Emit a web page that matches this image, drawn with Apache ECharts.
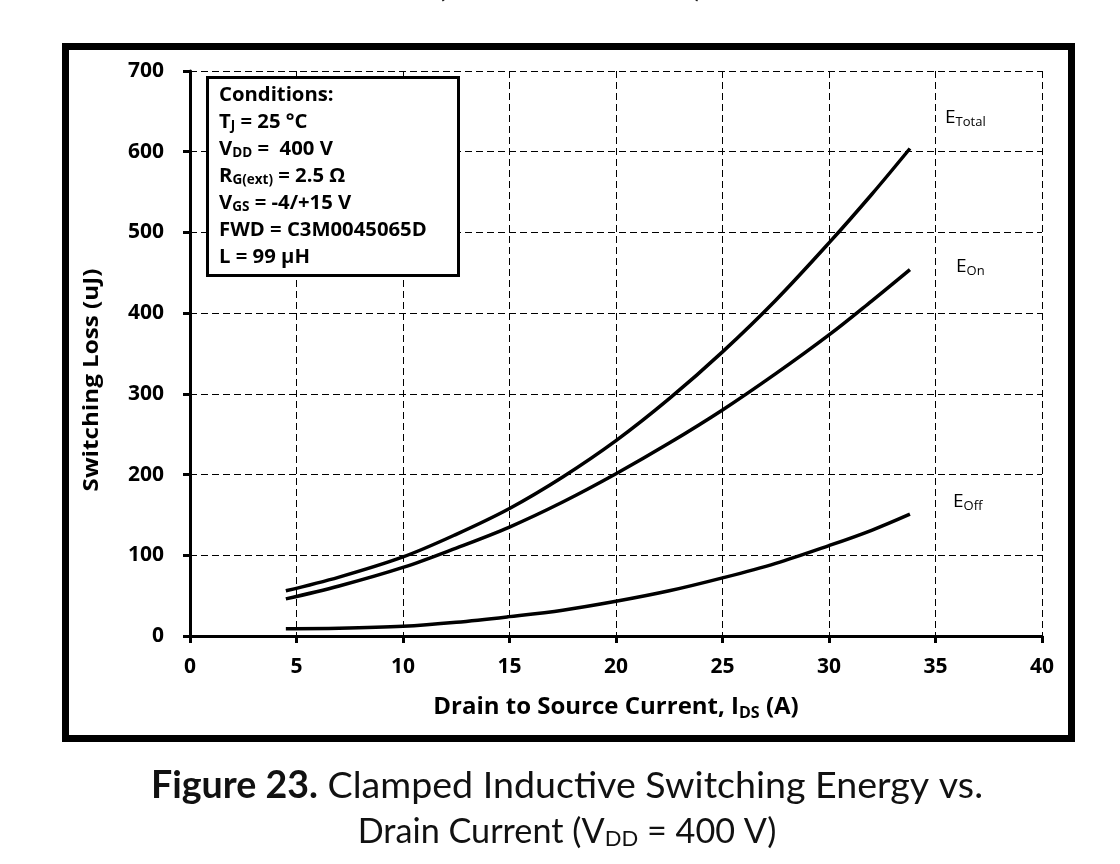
<!DOCTYPE html>
<html>
<head>
<meta charset="utf-8">
<script src="https://cdn.jsdelivr.net/npm/echarts@6/dist/echarts.min.js"></script>
<style>
html,body{margin:0;padding:0;background:#fff;}
#chart{width:1120px;height:864px;}
</style>
</head>
<body>
<div id="chart"></div>
<script>
// ---- data ----
var currentA = [4.5, 7, 10, 12.5, 15, 17.5, 20, 22.5, 25, 27.5, 30, 32, 33.8];
var eTotal   = [56, 73, 98, 126, 158, 197, 242, 294, 352, 416, 487, 547, 604];
var eOn      = [46, 62, 85, 109, 135, 166, 201, 239, 280, 325, 373, 415, 454];
var eOff     = [9, 9.5, 12, 17, 24, 32, 43, 56, 72, 90, 112, 131, 151];
var xTicks = [0, 5, 10, 15, 20, 25, 30, 35, 40];
var yTicks = [0, 100, 200, 300, 400, 500, 600, 700];

function pairs(xs, ys) { return xs.map(function (x, i) { return [x, ys[i]]; }); }

var FONT = '"Open Sans", "Noto Sans", sans-serif';
var CAP = 'Lato, "Noto Sans", sans-serif';

var chart = echarts.init(document.getElementById('chart'), null, {renderer: 'canvas'});

var lineStyle = {color: '#000', width: 3.5};
function mkSeries(name, ys) {
  return {
    name: name, type: 'line', smooth: 0.35, showSymbol: false, symbol: 'none',
    data: pairs(currentA, ys), lineStyle: lineStyle, itemStyle: {color: '#000'}, z: 5
  };
}
var subRich = function (size, sub, weight, lh, pad) {
  return {
    b: {fontFamily: FONT, fontWeight: weight, fontSize: size, lineHeight: lh || Math.round(size * 1.35), color: '#000', fill: '#000'},
    s: {fontFamily: FONT, fontWeight: weight, fontSize: sub, lineHeight: sub, verticalAlign: 'bottom', padding: [0, 0, pad == null ? 2 : pad, 0], color: '#000', fill: '#000'}
  };
};

var option = {
  backgroundColor: '#fff',
  animation: false,
  grid: {left: 190, right: 78, top: 71, bottom: 228, containLabel: false},
  xAxis: {
    type: 'value', min: xTicks[0], max: xTicks[xTicks.length - 1], interval: 5,
    axisLine: {show: true, onZero: false, lineStyle: {color: '#000', width: 3}},
    axisTick: {show: true, length: 7, lineStyle: {color: '#000', width: 3}},
    axisLabel: {color: '#000', fontFamily: FONT, fontWeight: 'bold', fontSize: 21, margin: 21},
    splitLine: {show: true, lineStyle: {color: '#000', width: 1, type: [7, 4]}},
    name: '{b|Drain to Source Current, I}{s|DS}{b| (A)}',
    nameLocation: 'middle', nameGap: 55,
    nameTextStyle: {color: '#000', fontFamily: FONT, fontWeight: 'bold', fontSize: 24, rich: subRich(24, 16, 'bold')}
  },
  yAxis: {
    type: 'value', min: yTicks[0], max: yTicks[yTicks.length - 1], interval: 100,
    axisLine: {show: true, lineStyle: {color: '#000', width: 3}},
    axisTick: {show: true, length: 7, lineStyle: {color: '#000', width: 3}},
    axisLabel: {color: '#000', fontFamily: FONT, fontWeight: 'bold', fontSize: 21, margin: 26},
    splitLine: {show: true, lineStyle: {color: '#000', width: 1, type: [7, 4]}}
  },
  series: [mkSeries('E_Total', eTotal), mkSeries('E_On', eOn), mkSeries('E_Off', eOff)],
  graphic: [
    // outer thick frame
    {type: 'rect', z: 50, silent: true, shape: {x: 65.5, y: 46.5, width: 1006, height: 692},
     style: {fill: 'none', stroke: '#000', lineWidth: 7}},
    // y axis name
    {type: 'text', z: 50, x: 92, y: 380, rotation: Math.PI / 2, scaleX: 1.1,
     style: {text: 'Switching Loss (uJ)', fontFamily: FONT, fontWeight: 'bold', fontSize: 22,
             fill: '#000', align: 'center', verticalAlign: 'middle'}},
    // conditions box
    {type: 'rect', z: 60, shape: {x: 207.5, y: 77.5, width: 251, height: 198},
     style: {fill: '#fff', stroke: '#000', lineWidth: 3}},
    {type: 'text', z: 61, x: 219, y: 82,
     style: {
       text: '{b|Conditions:}\n{b|T}{s|J}{b| = 25 °C}\n{b|V}{s|DD}{b| =  400 V}\n{b|R}{s|G(ext)}{b| = 2.5 Ω}\n{b|V}{s|GS}{b| = -4/+15 V}\n{b|FWD = C3M0045065D}\n{b|L = 99 µH}',
       fill: '#000', align: 'left', verticalAlign: 'top',
       rich: subRich(20.3, 13.5, 'bold', 27, 3)
     }},
    // curve labels
    {type: 'text', z: 50, x: 945, y: 118,
     style: {text: '{b|E}{s|Total}', verticalAlign: 'middle', rich: subRich(19, 13, 'normal')}},
    {type: 'text', z: 50, x: 956, y: 267,
     style: {text: '{b|E}{s|On}', verticalAlign: 'middle', rich: subRich(19, 13, 'normal')}},
    {type: 'text', z: 50, x: 953, y: 502,
     style: {text: '{b|E}{s|Off}', verticalAlign: 'middle', rich: subRich(19, 13, 'normal')}},
    // caption
    {type: 'text', z: 50, x: 567, y: 786,
     style: {text: '{b|Figure 23.}{r| Clamped Inductive Switching Energy vs.}', align: 'center', verticalAlign: 'middle',
       rich: {b: {fontFamily: CAP, fontWeight: 'bold', fontSize: 37.6, color: '#111', fill: '#111'},
              r: {fontFamily: CAP, fontSize: 37.6, color: '#111', fill: '#111'}}}},
    {type: 'text', z: 50, x: 567, y: 832,
     style: {text: '{r|Drain Current (V}{s|DD}{r| = 400 V)}', align: 'center', verticalAlign: 'middle',
       rich: {r: {fontFamily: CAP, fontSize: 34.2, lineHeight: 44, color: '#111', fill: '#111'},
              s: {fontFamily: CAP, fontSize: 22, lineHeight: 22, verticalAlign: 'bottom', padding: [0, 0, 4, 0], color: '#111', fill: '#111'}}}},
    // tail of the previous caption cut off at the top
    {type: 'text', z: 50, x: 441, y: -16,
     style: {text: '(', fontFamily: CAP, fontSize: 37, fill: '#111', align: 'center', verticalAlign: 'middle'}},
    {type: 'text', z: 50, x: 699, y: -16,
     style: {text: ')', fontFamily: CAP, fontSize: 37, fill: '#111', align: 'center', verticalAlign: 'middle'}}
  ]
};
chart.setOption(option);
</script>
</body>
</html>
